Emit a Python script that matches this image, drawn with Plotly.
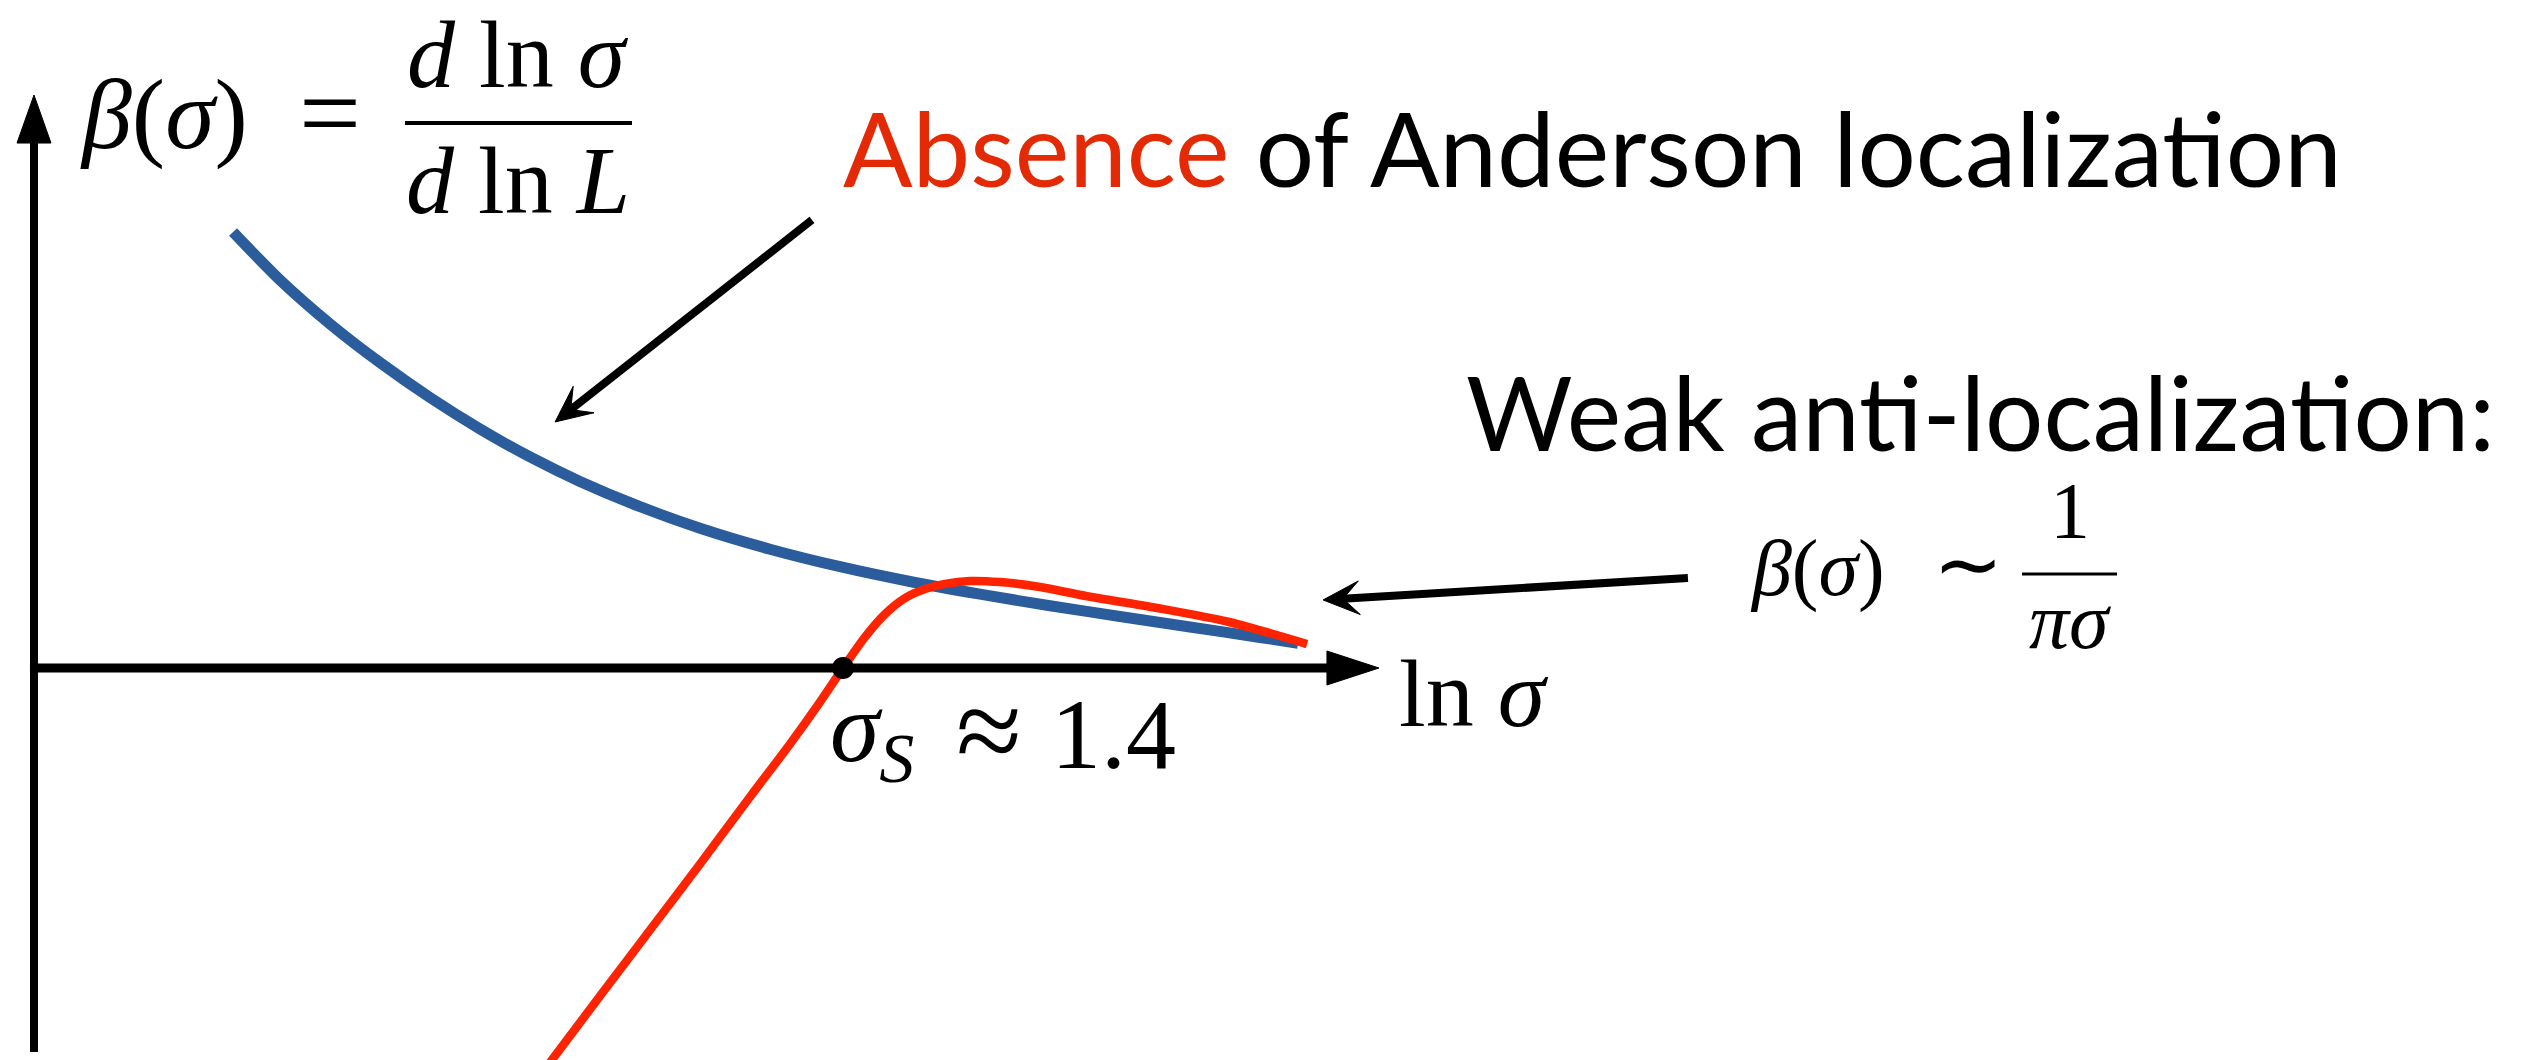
import math
import plotly.graph_objects as go

# Schematic scaling curves beta(sigma) vs ln(sigma), arbitrary units
# (x = ln sigma, y = beta; origin where the two axes cross)

# Weak anti-localization branch (blue)
blue_x = [1.480, 1.829, 2.201, 2.572, 2.944, 3.316, 3.688, 4.059, 4.506,
          4.952, 5.472, 5.993, 6.513, 7.033, 7.554, 8.074, 8.595, 9.115, 9.398]
blue_y = [3.242, 2.885, 2.558, 2.271, 2.011, 1.777, 1.569, 1.387, 1.199,
          1.039, 0.883, 0.753, 0.643, 0.549, 0.463, 0.383, 0.305, 0.227, 0.184]

# Full beta function with the zero crossing (red)
red_x = [3.822, 4.208, 4.580, 4.952, 5.323, 5.621, 5.844, 6.015, 6.178,
         6.327, 6.476, 6.625, 6.773, 6.959, 7.182, 7.480, 7.822, 8.349,
         8.885, 9.465]
red_y = [-2.952, -2.439, -1.948, -1.457, -0.959, -0.565, -0.253, 0.000,
         0.230, 0.401, 0.520, 0.587, 0.625, 0.647, 0.639, 0.602, 0.535,
         0.446, 0.342, 0.178]

# Zero of the beta function, sigma_S
sigma_s_x = [6.015]
sigma_s_y = [0.0]

# Axis extents
X_AXIS_START, X_AXIS_END = -0.030, 10.0
Y_AXIS_BOTTOM, Y_AXIS_TOP = -2.855, 4.260
HEAD_LEN_X, HEAD_LEN_Y, HEAD_HALF = 0.387, 0.357, 0.1264

X_RANGE = [-0.2528, 18.498]
Y_RANGE = [-2.9145, 4.9665]

BLUE = "#2B5C9B"
RED = "#FF2300"
RED_TEXT = "#E32A05"
SERIF = "Liberation Serif"
SANS = "Lato"

fig = go.Figure()

fig.add_trace(go.Scatter(x=blue_x, y=blue_y, mode="lines",
                         line=dict(color=BLUE, width=11, shape="spline",
                                   smoothing=0.8),
                         hoverinfo="skip"))
fig.add_trace(go.Scatter(x=red_x, y=red_y, mode="lines",
                         line=dict(color=RED, width=8.5, shape="spline",
                                   smoothing=0.8),
                         hoverinfo="skip"))
fig.add_trace(go.Scatter(x=sigma_s_x, y=sigma_s_y, mode="markers",
                         marker=dict(color="black", size=22),
                         hoverinfo="skip"))

shapes = []
# horizontal axis (ln sigma) with arrowhead
shapes.append(dict(type="line", x0=X_AXIS_START, y0=0,
                   x1=X_AXIS_END - HEAD_LEN_X, y1=0,
                   line=dict(color="black", width=9)))
shapes.append(dict(type="path",
                   path=(f"M{X_AXIS_END - HEAD_LEN_X},{-HEAD_HALF} "
                         f"L{X_AXIS_END},0 L{X_AXIS_END - HEAD_LEN_X},{HEAD_HALF} Z"),
                   fillcolor="black", line=dict(color="black", width=1)))
# vertical axis (beta) with arrowhead
shapes.append(dict(type="line", x0=0, y0=Y_AXIS_BOTTOM,
                   x1=0, y1=Y_AXIS_TOP - HEAD_LEN_Y,
                   line=dict(color="black", width=8)))
shapes.append(dict(type="path",
                   path=(f"M{-HEAD_HALF},{Y_AXIS_TOP - HEAD_LEN_Y} "
                         f"L0,{Y_AXIS_TOP} L{HEAD_HALF},{Y_AXIS_TOP - HEAD_LEN_Y} Z"),
                   fillcolor="black", line=dict(color="black", width=1)))
# fraction bars
shapes.append(dict(type="line", x0=2.758, y0=4.052, x1=4.446, y1=4.052,
                   line=dict(color="black", width=4)))
shapes.append(dict(type="line", x0=14.781, y0=0.699, x1=15.487, y1=0.699,
                   line=dict(color="black", width=3)))


def pointer(tail, tip, length=0.27, half=0.125, notch=0.55, width=8):
    """Straight pointer with a barbed head, in data units (axes share scale)."""
    dx, dy = tip[0] - tail[0], tip[1] - tail[1]
    d = math.hypot(dx, dy)
    ux, uy = dx / d, dy / d
    nx, ny = -uy, ux
    bx, by = tip[0] - length * ux, tip[1] - length * uy
    kx, ky = tip[0] - notch * length * ux, tip[1] - notch * length * uy
    shapes.append(dict(type="line", x0=tail[0], y0=tail[1], x1=kx, y1=ky,
                       line=dict(color="black", width=width)))
    shapes.append(dict(type="path",
                       path=(f"M{tip[0]},{tip[1]} "
                             f"L{bx + half * nx},{by + half * ny} "
                             f"L{kx},{ky} "
                             f"L{bx - half * nx},{by - half * ny} Z"),
                       fillcolor="black", line=dict(color="black", width=1)))


# pointers to the two curves
pointer((5.784, 3.331), (3.874, 1.829))
pointer((12.297, 0.669), (9.584, 0.506))

annotations = []


def text(x, y, s, size, family=SERIF, xanchor="left", color="black"):
    annotations.append(dict(x=x, y=y, xref="x", yref="y", text=s,
                            showarrow=False, xanchor=xanchor, yanchor="middle",
                            font=dict(family=family, size=size, color=color)))


# beta(sigma) = d ln sigma / d ln L
text(0.327, 4.112, "<i>β</i>(<i>σ</i>)", 100)
text(2.201, 4.130, "=", 110, xanchor="center")
text(3.599, 4.561, "<i>d</i> ln <i>σ</i>", 96, xanchor="center")
text(3.599, 3.628, "<i>d</i> ln <i>L</i>", 96, xanchor="center")

# headline
text(6.0, 3.874,
     f"<span style='color:{RED_TEXT}'>Absence</span> of Anderson localization",
     103, family=SANS)

# weak anti-localization asymptote
text(10.632, 1.911, "Weak anti-localization:", 103, family=SANS)
text(12.743, 0.743, "<i>β</i>(<i>σ</i>)", 80)
text(14.380, 0.767, "∼", 84, xanchor="center")
text(15.138, 1.167, "1", 80, xanchor="center")
text(15.138, 0.349, "<i>π</i><i>σ</i>", 80, xanchor="center")

# axis label and zero label
text(10.134, -0.193, "ln <i>σ</i>", 96)
text(5.903, -0.498, "<i>σ</i><sub><i>S</i></sub>", 100)
text(7.100, -0.461, "≈", 120, xanchor="center")
text(7.550, -0.498, "1.4", 100)

fig.update_layout(
    width=2522, height=1060, autosize=False,
    margin=dict(l=0, r=0, t=0, b=0),
    paper_bgcolor="white", plot_bgcolor="white",
    showlegend=False,
    xaxis=dict(range=X_RANGE, visible=False, fixedrange=True),
    yaxis=dict(range=Y_RANGE, visible=False, fixedrange=True),
    shapes=shapes, annotations=annotations,
)

fig.write_html("out.html", config={"displayModeBar": False})
